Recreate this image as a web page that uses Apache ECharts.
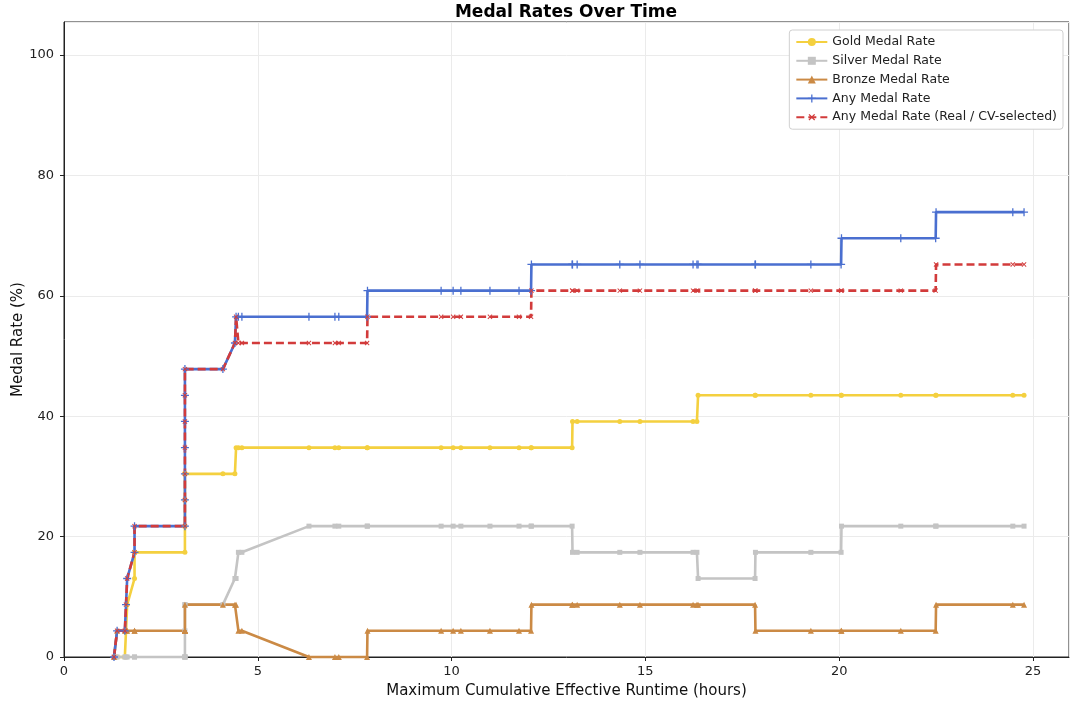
<!DOCTYPE html>
<html>
<head>
<meta charset="utf-8">
<script src="https://cdn.jsdelivr.net/npm/echarts@6/dist/echarts.min.js"></script>
<style>html,body{margin:0;padding:0;background:#fff}#chart{width:1080px;height:708px}</style>
</head>
<body>
<div id="chart"></div>
<script>
// ---- data ----
const runtimeHours = [1.29,1.37,1.57,1.60,1.63,1.82,1.82,3.12,3.12,3.12,3.12,3.12,3.12,3.12,4.10,4.41,4.44,4.50,4.59,6.32,6.99,7.09,7.82,7.83,9.73,10.04,10.24,10.99,11.74,12.05,12.06,13.11,13.12,13.24,14.34,14.86,16.23,16.33,16.36,17.83,17.84,19.27,20.05,20.06,21.59,22.49,22.50,24.48,24.77];
const goldRate = [0,0,0,4.35,8.70,13.04,17.39,17.39,21.74,26.09,30.43,30.43,30.43,30.43,30.43,30.43,34.78,34.78,34.78,34.78,34.78,34.78,34.78,34.78,34.78,34.78,34.78,34.78,34.78,34.78,34.78,34.78,39.13,39.13,39.13,39.13,39.13,39.13,43.48,43.48,43.48,43.48,43.48,43.48,43.48,43.48,43.48,43.48,43.48];
const silverRate = [0,0,0,0,0,0,0,0,0,0,0,4.35,8.70,8.70,8.70,13.04,13.04,17.39,17.39,21.74,21.74,21.74,21.74,21.74,21.74,21.74,21.74,21.74,21.74,21.74,21.74,21.74,17.39,17.39,17.39,17.39,17.39,17.39,13.04,13.04,17.39,17.39,17.39,21.74,21.74,21.74,21.74,21.74,21.74];
const bronzeRate = [0,4.35,4.35,4.35,4.35,4.35,4.35,4.35,4.35,4.35,4.35,4.35,4.35,8.70,8.70,8.70,8.70,4.35,4.35,0,0,0,0,4.35,4.35,4.35,4.35,4.35,4.35,4.35,8.70,8.70,8.70,8.70,8.70,8.70,8.70,8.70,8.70,8.70,4.35,4.35,4.35,4.35,4.35,4.35,8.70,8.70,8.70];
const anyRate = [0,4.35,4.35,8.70,13.04,17.39,21.74,21.74,26.09,30.43,34.78,39.13,43.48,47.83,47.83,52.17,56.52,56.52,56.52,56.52,56.52,56.52,56.52,60.87,60.87,60.87,60.87,60.87,60.87,60.87,65.22,65.22,65.22,65.22,65.22,65.22,65.22,65.22,65.22,65.22,65.22,65.22,65.22,69.57,69.57,69.57,73.91,73.91,73.91];
const realRate = [0,4.35,4.35,8.70,13.04,17.39,21.74,21.74,26.09,30.43,34.78,39.13,43.48,47.83,47.83,52.17,56.52,52.17,52.17,52.17,52.17,52.17,52.17,56.52,56.52,56.52,56.52,56.52,56.52,56.52,60.87,60.87,60.87,60.87,60.87,60.87,60.87,60.87,60.87,60.87,60.87,60.87,60.87,60.87,60.87,60.87,65.22,65.22,65.22];
const seriesNames = ['Gold Medal Rate','Silver Medal Rate','Bronze Medal Rate','Any Medal Rate','Any Medal Rate (Real / CV-selected)'];
const xTicks = [0,5,10,15,20,25];
const yTicks = [0,20,40,60,80,100];

const pair = ys => runtimeHours.map((x, i) => [x, ys[i]]);
const PLUS = 'path://M4.2,0H5.8V4.2H10V5.8H5.8V10H4.2V5.8H0V4.2H4.2Z';

const chart = echarts.init(document.getElementById('chart'), null, {renderer: 'canvas'});
const FONT = 'DejaVu Sans';

function mk(name, ys, color, symbol, size, extra) {
  return Object.assign({
    name: name, type: 'line', data: pair(ys),
    symbol: symbol, symbolSize: size, showSymbol: true,
    lineStyle: {color: color, width: 2.6},
    itemStyle: {color: color},
    animation: false, clip: false
  }, extra || {});
}

chart.setOption({
  backgroundColor: '#ffffff',
  textStyle: {fontFamily: FONT},
  animation: false,
  graphic: [{
    type: 'text', x: 566, y: 4,
    style: {text: 'Medal Rates Over Time', font: 'bold 17px "DejaVu Sans"', fill: '#000', align: 'center', textAlign: 'center'}
  }],
  grid: {left: 64, right: 11, top: 22, bottom: 51, show: true, borderColor: '#222', borderWidth: 1, backgroundColor: 'transparent'},
  legend: {
    orient: 'vertical', right: 17, top: 30,
    data: seriesNames,
    itemWidth: 31, itemHeight: 10, itemGap: 4.8,
    padding: [5, 6, 5, 6],
    backgroundColor: '#fff', borderColor: '#d0d0d0', borderWidth: 1, borderRadius: 3,
    textStyle: {fontFamily: FONT, fontSize: 12.5, lineHeight: 14, color: '#222'}
  },
  xAxis: {
    type: 'value', min: 0, max: 25.93, interval: 5,
    name: 'Maximum Cumulative Effective Runtime (hours)', nameLocation: 'middle', nameGap: 27,
    nameMoveOverlap: false,
    nameTextStyle: {fontFamily: FONT, fontSize: 15, color: '#111'},
    axisLine: {show: true, lineStyle: {color: '#222', width: 1}},
    axisTick: {show: true, length: 4, lineStyle: {color: '#222'}},
    axisLabel: {fontFamily: FONT, fontSize: 13, color: '#222', margin: 8, showMaxLabel: false,
      formatter: v => xTicks.includes(v) ? String(v) : ''},
    splitLine: {show: true, lineStyle: {color: '#ebebeb', width: 1}}
  },
  yAxis: {
    type: 'value', min: 0, max: 105.5, interval: 20,
    name: 'Medal Rate (%)', nameLocation: 'middle', nameGap: 38,
    nameMoveOverlap: false,
    nameTextStyle: {fontFamily: FONT, fontSize: 15, color: '#111'},
    axisLine: {show: true, lineStyle: {color: '#222', width: 1}},
    axisTick: {show: true, length: 4, lineStyle: {color: '#222'}},
    axisLabel: {fontFamily: FONT, fontSize: 13, color: '#222', margin: 10, showMaxLabel: false,
      formatter: v => yTicks.includes(v) ? String(v) : ''},
    splitLine: {show: true, lineStyle: {color: '#ebebeb', width: 1}}
  },
  series: [
    mk(seriesNames[0], goldRate, '#F4D03F', 'circle', 5),
    mk(seriesNames[1], silverRate, '#C4C4C4', 'rect', 5),
    mk(seriesNames[2], bronzeRate, '#CB8A45', 'triangle', 6),
    mk(seriesNames[3], anyRate, '#4A6FD0', PLUS, 8),
    mk(seriesNames[4], realRate, '#D23B3B', PLUS, 6, {
      symbolRotate: 45,
      lineStyle: {color: '#D23B3B', width: 2.6, type: [8, 4]}
    })
  ]
});
</script>
</body>
</html>
